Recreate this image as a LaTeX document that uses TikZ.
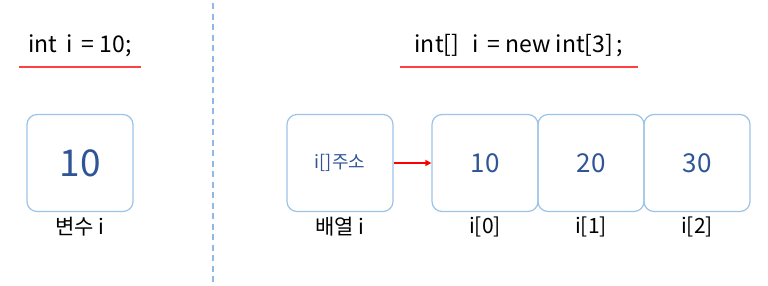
\documentclass[tikz,border=0pt]{standalone}
\usepackage{fontspec}
\setmainfont{Noto Sans CJK KR}
\usetikzlibrary{arrows.meta}
\definecolor{boxline}{HTML}{9DC3E6}
\definecolor{valblue}{HTML}{2F5597}
\definecolor{uline}{HTML}{FF4040}
\definecolor{dashblue}{HTML}{8FB8E6}
\begin{document}
\begin{tikzpicture}[x=1pt,y=-1pt,
  cell/.style={draw=boxline,line width=1.2pt,rounded corners=10pt,minimum width=106pt,minimum height=97pt,inner sep=0pt,text=valblue},
  caption/.style={inner sep=0pt,font=\fontsize{21}{21}\selectfont,text=black},
  code/.style={inner sep=0pt,font=\fontsize{23}{23}\selectfont,text=black},
  ul/.style={draw=uline,line width=1.3pt}]
\useasboundingbox (0,0) rectangle (768,285);
\draw[dashblue,line width=1.3pt,dash pattern=on 6pt off 4.5pt] (213,3) coordinate (dt) -- (213,284) coordinate (db);
% left
\node[code] (lcode) at (80,46) {int\, i\, = 10;};
\coordinate (lu1) at (19,67); \coordinate (lu2) at (141,67);
\draw[ul] (lu1) -- (lu2);
\node[cell,font=\fontsize{37}{37}\selectfont] (v) at (80,163) {10};
\node[caption] (vl) at (80,227) {변수 i};
% right
\node[code] (rcode) at (519,46) {int[]\,\, i\, = new int[3]\,;};
\coordinate (ru1) at (400,67); \coordinate (ru2) at (638,67);
\draw[ul] (ru1) -- (ru2);
\node[cell,font=\fontsize{18}{18}\selectfont] (addr) at (340,163) {i[]주소};
\node[cell,font=\fontsize{26}{26}\selectfont] (a0) at (485,163) {10};
\node[cell,font=\fontsize{26}{26}\selectfont] (a1) at (591,163) {20};
\node[cell,font=\fontsize{26}{26}\selectfont] (a2) at (697,163) {30};
\node[caption] (addrl) at (340,227) {배열 i};
\node[caption] (l0) at (485,227) {i[0]};
\node[caption] (l1) at (591,227) {i[1]};
\node[caption] (l2) at (697,227) {i[2]};
\draw[red,line width=1.3pt,-{Triangle[length=6pt,width=6pt]}] (addr.east) -- (a0.west);
\end{tikzpicture}
\end{document}
